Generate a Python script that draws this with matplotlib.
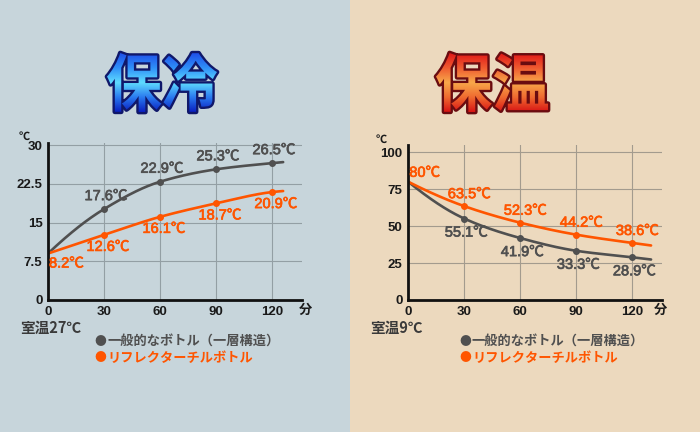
import numpy as np
import matplotlib
matplotlib.use("Agg")
import matplotlib.pyplot as plt
import matplotlib.transforms as mtrans
import matplotlib.patheffects as pe
from matplotlib.textpath import TextPath
from matplotlib.font_manager import FontProperties
from matplotlib.patches import PathPatch, Rectangle
from matplotlib.colors import LinearSegmentedColormap

# ---------------- data ----------------
minutes = [0, 30, 60, 90, 120]
x_ticks = [0, 30, 60, 90, 120]

cold_y_ticks = [0, 7.5, 15, 22.5, 30]
cold_y_labels = ["0", "7.5", "15", "22.5", "30"]
cold_normal = [9.0, 17.6, 22.9, 25.3, 26.5]
cold_reflect = [9.0, 12.6, 16.1, 18.7, 20.9]
cold_normal_labels = ["", "17.6℃", "22.9℃", "25.3℃", "26.5℃"]
cold_reflect_labels = ["8.2℃", "12.6℃", "16.1℃", "18.7℃", "20.9℃"]
cold_end_minute = 126
cold_normal_end = 26.7
cold_reflect_end = 21.1

hot_y_ticks = [0, 25, 50, 75, 100]
hot_y_labels = ["0", "25", "50", "75", "100"]
hot_normal = [80, 55.1, 41.9, 33.3, 28.9]
hot_reflect = [80, 63.5, 52.3, 44.2, 38.6]
hot_normal_labels = ["", "55.1℃", "41.9℃", "33.3℃", "28.9℃"]
hot_reflect_labels = ["80℃", "63.5℃", "52.3℃", "44.2℃", "38.6℃"]
hot_end_minute = 130
hot_normal_end = 27.4
hot_reflect_end = 36.9

titles = ["保冷", "保温"]
room_labels = ["室温27℃", "室温9℃"]
legend_labels = ["一般的なボトル（一層構造）", "リフレクターチルボトル"]

# ---------------- style ----------------
GRAY = "#505050"
ORANGE = "#ff5500"
BG_LEFT = "#c7d5db"
BG_RIGHT = "#ecd9be"
CJK = "Noto Sans CJK JP"
NUM_FAM = ["Liberation Sans Narrow", "Liberation Sans", CJK, "DejaVu Sans"]
CJK_FAM = [CJK, "DejaVu Sans"]

W, H = 700, 432
fig = plt.figure(figsize=(W / 100, H / 100), dpi=100)


def fx(x):
    return x / W


def fy(y):
    return 1 - y / H


bg = fig.add_axes([0, 0, 1, 1], zorder=0)
bg.set_xlim(0, W)
bg.set_ylim(H, 0)
bg.axis("off")
bg.add_patch(Rectangle((0, 0), 350, H, color=BG_LEFT, lw=0))
bg.add_patch(Rectangle((350, 0), 350, H, color=BG_RIGHT, lw=0))


def gradient_title(s, box, colors, edge):
    fp = FontProperties(family=CJK, weight="bold")
    tp = TextPath((0, 0), s, size=100, prop=fp)
    ext = tp.get_extents()
    x0, y0, x1, y1 = box
    sx = (x1 - x0) / ext.width
    sy = (y1 - y0) / ext.height
    tr = mtrans.Affine2D().translate(-ext.x0, -ext.y1).scale(sx, -sy).translate(x0, y0)
    path = tr.transform_path(tp)
    outline = PathPatch(path, facecolor=edge, edgecolor=edge, lw=3.4,
                        joinstyle="round", zorder=3)
    bg.add_patch(outline)
    clip = PathPatch(path, facecolor="none", edgecolor="none", zorder=4)
    bg.add_patch(clip)
    grad = np.linspace(0, 1, 256)[:, None]
    cmap = LinearSegmentedColormap.from_list("g", colors)
    im = bg.imshow(grad, cmap=cmap, extent=(x0, x1, y1, y0), aspect="auto",
                   zorder=4, interpolation="bilinear")
    im.set_clip_path(clip)


gradient_title(titles[0], (107, 53, 217, 112),
               ["#1f4fe8", "#2f8ff8", "#5fdcff", "#2a7af0", "#0a1fc0"], "#10186a")
gradient_title(titles[1], (436, 53, 548, 112),
               ["#e01818", "#ef5a30", "#f8a84a", "#ef6a30", "#d81414"], "#6a0c10")
bg.set_xlim(0, W)
bg.set_ylim(H, 0)


def smooth(x, y, n=300):
    x = np.asarray(x, float)
    y = np.asarray(y, float)
    h = np.diff(x)
    d = np.diff(y) / h
    m = np.zeros_like(y)
    for k in range(1, len(x) - 1):
        if d[k - 1] * d[k] > 0:
            w1 = 2 * h[k] + h[k - 1]
            w2 = h[k] + 2 * h[k - 1]
            m[k] = (w1 + w2) / (w1 / d[k - 1] + w2 / d[k])
    m[0] = ((2 * h[0] + h[1]) * d[0] - h[0] * d[1]) / (h[0] + h[1])
    m[-1] = d[-1]
    xs = np.linspace(x[0], x[-1], n)
    idx = np.clip(np.searchsorted(x, xs) - 1, 0, len(x) - 2)
    t = (xs - x[idx]) / h[idx]
    h00 = 2 * t**3 - 3 * t**2 + 1
    h10 = t**3 - 2 * t**2 + t
    h01 = -2 * t**3 + 3 * t**2
    h11 = t**3 - t**2
    ys = h00 * y[idx] + h10 * h[idx] * m[idx] + h01 * y[idx + 1] + h11 * h[idx] * m[idx + 1]
    return xs, ys


def make_chart(rect, xmax, ymax, yticks, ylabels, grid_col):
    ax = fig.add_axes(rect, zorder=1)
    ax.patch.set_alpha(0)
    ax.set_xlim(0, xmax)
    ax.set_ylim(0, ymax)
    ax.set_xticks(x_ticks)
    ax.set_xticklabels([str(v) for v in x_ticks])
    ax.set_yticks(yticks)
    ax.set_yticklabels(ylabels)
    for s in ["top", "right"]:
        ax.spines[s].set_visible(False)
    for s in ["left", "bottom"]:
        ax.spines[s].set_color("#111111")
        ax.spines[s].set_linewidth(2.0)
        ax.spines[s].set_zorder(5)
    ax.tick_params(length=0, pad=4, labelsize=9.5, labelcolor="#1a1a1a")
    for lab in ax.get_xticklabels() + ax.get_yticklabels():
        lab.set_family(NUM_FAM)
        lab.set_fontweight("bold")
    ax.grid(True, color=grid_col, lw=0.8)
    ax.set_axisbelow(True)
    return ax


def draw_series(ax, vals, end_x, end_y, color, labels, off, first_off):
    xs, ys = smooth(minutes + [end_x], vals + [end_y])
    ax.plot(xs, ys, color=color, lw=1.9, zorder=3, solid_capstyle="round")
    ax.plot(minutes[1:], vals[1:], "o", color=color, ms=4, zorder=4)
    for i, (xv, yv, lab) in enumerate(zip(minutes, vals, labels)):
        if not lab:
            continue
        first = i == 0
        t = ax.annotate(lab, (xv, yv), xytext=first_off if first else off,
                        textcoords="offset pixels",
                        ha="left" if first else "center", va="center",
                        color=color, fontsize=10.5, family=NUM_FAM,
                        fontweight="normal", zorder=6, annotation_clip=False)
        t.set_path_effects([pe.withStroke(linewidth=0.5, foreground=color)])


# left chart (cold)
axL = make_chart([fx(48), fy(300), 254 / W, 157 / H], 136.1, 30.4,
                 cold_y_ticks, cold_y_labels, "#939fa4")
draw_series(axL, cold_normal, cold_end_minute, cold_normal_end, GRAY,
            cold_normal_labels, (2, 13), (0, 0))
draw_series(axL, cold_reflect, cold_end_minute, cold_reflect_end, ORANGE,
            cold_reflect_labels, (4, -12), (1, -10))

# right chart (hot)
axR = make_chart([fx(408.3), fy(300), 253.4 / W, 155 / H], 135.7, 104.9,
                 hot_y_ticks, hot_y_labels, "#a39b8e")
draw_series(axR, hot_normal, hot_end_minute, hot_normal_end, GRAY,
            hot_normal_labels, (2, -14), (0, 0))
draw_series(axR, hot_reflect, hot_end_minute, hot_reflect_end, ORANGE,
            hot_reflect_labels, (5, 12), (1, 9))

# unit labels
for (ux, uy), (mx, my) in [((24, 136), (305, 310)), ((381, 139), (660, 310))]:
    fig.text(fx(ux), fy(uy), "℃", ha="center", va="center", fontsize=8,
             family=CJK_FAM, fontweight="bold", color="#1a1a1a")
    fig.text(fx(mx), fy(my), "分", ha="center", va="center", fontsize=9.5,
             family=CJK_FAM, fontweight="bold", color="#1a1a1a")

# room temperature
for lab, x0 in zip(room_labels, [20, 370]):
    fig.text(fx(x0), fy(328), lab, ha="left", va="center", fontsize=10.5,
             family=CJK_FAM, fontweight="bold", color="#3a3a3a")

# legends
for dx in [100, 465]:
    for lab, col, yy in zip(legend_labels, [GRAY, ORANGE], [341, 358]):
        fig.text(fx(dx), fy(yy), "●", ha="center", va="center", fontsize=8.5,
                 family=CJK_FAM, color=col)
        fig.text(fx(dx + 7), fy(yy), lab, ha="left", va="center", fontsize=9.5,
                 family=CJK_FAM, fontweight="bold", color=col)

fig.savefig("out.png", dpi=100)
